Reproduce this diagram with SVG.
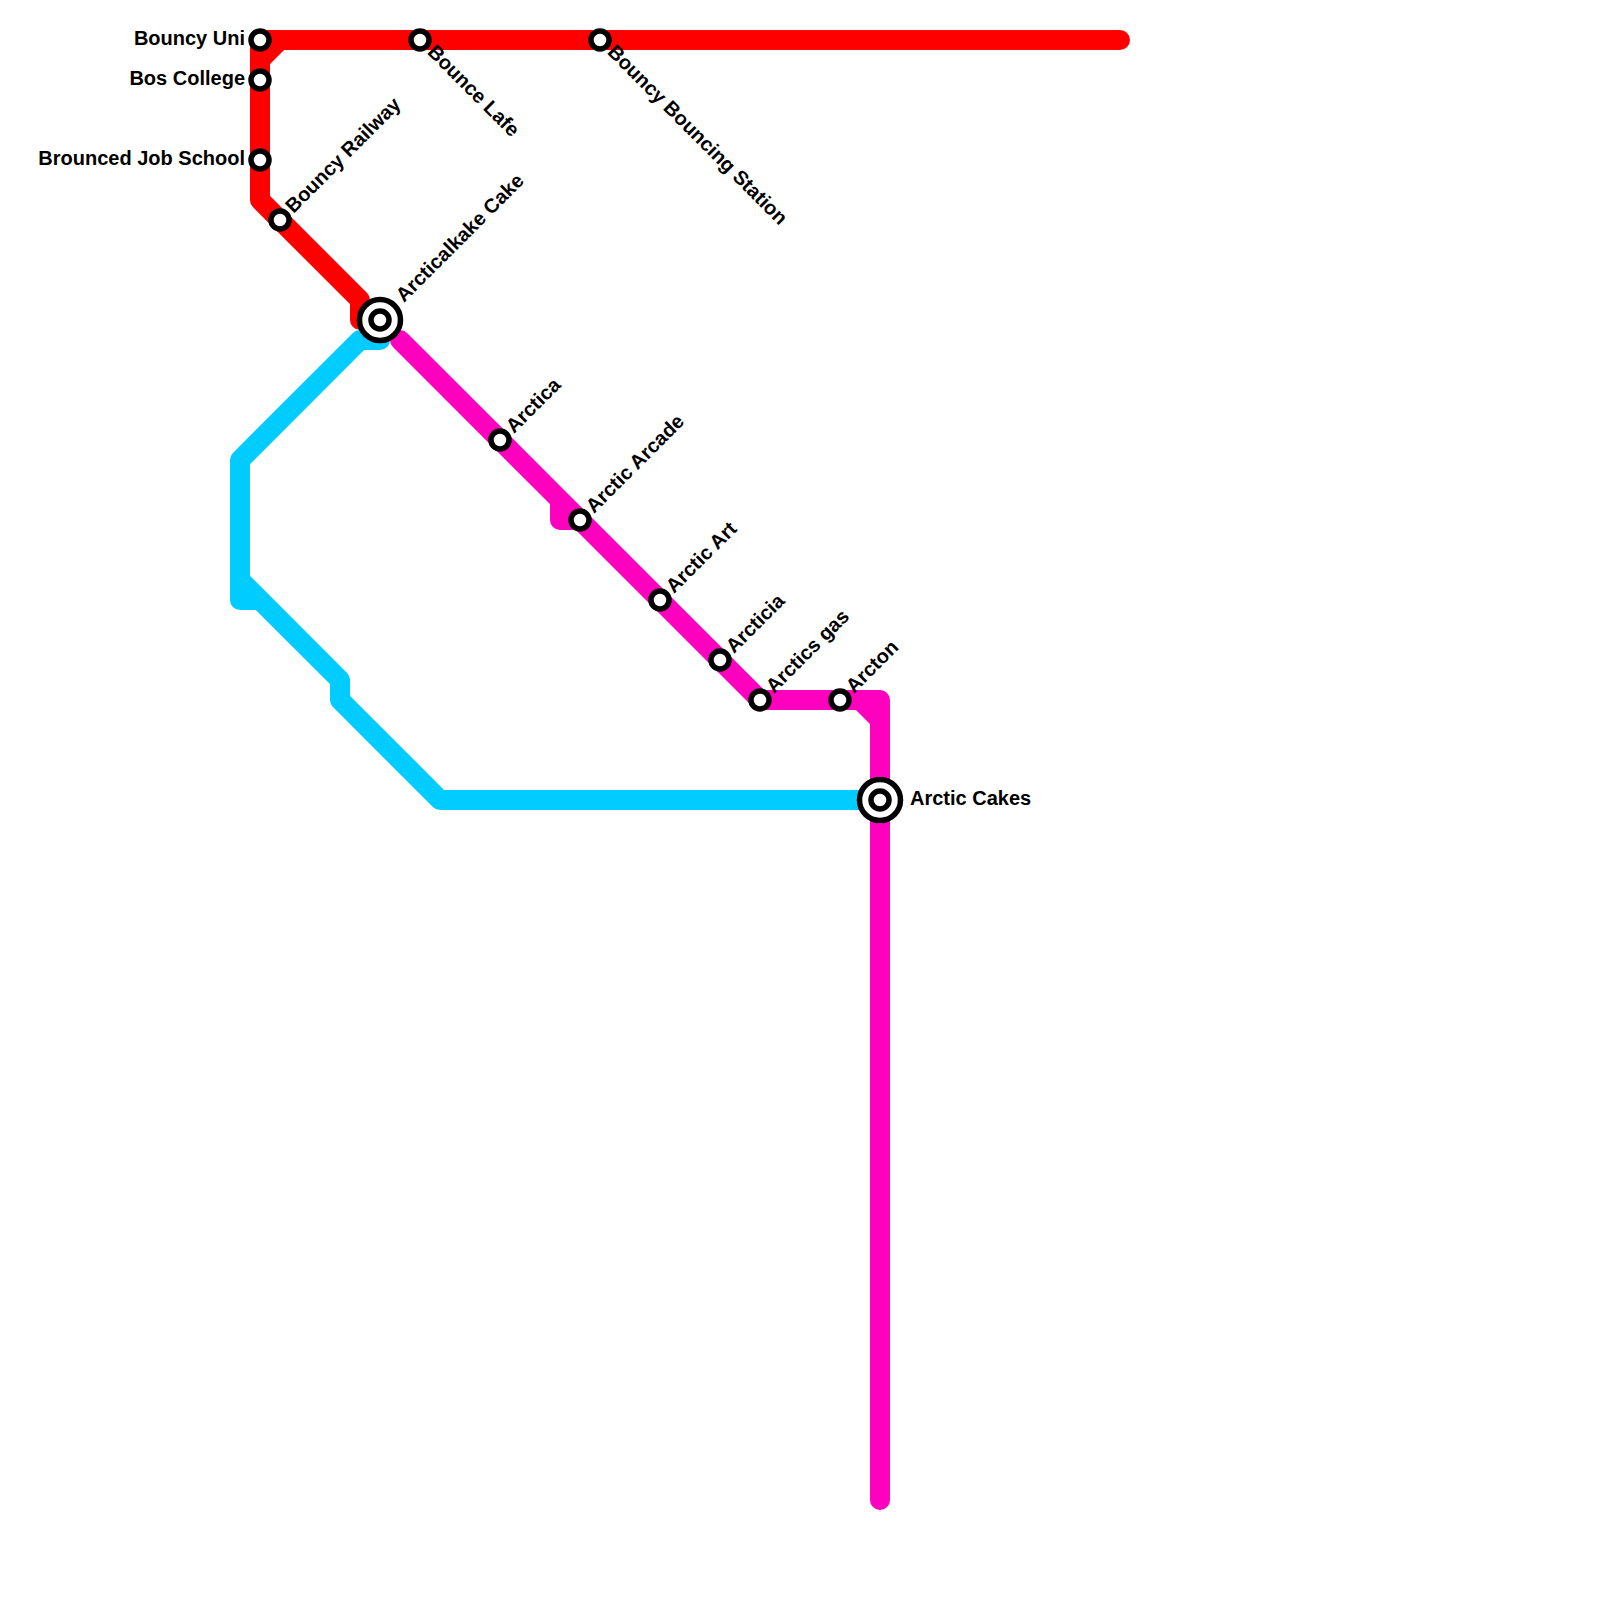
<svg xmlns="http://www.w3.org/2000/svg" width="1600" height="1600" viewBox="0 0 1600 1600">
<style>
.line{fill:none;stroke-width:20;stroke-linecap:round;stroke-linejoin:round}
.red{stroke:#ff0000}.pink{stroke:#ff00bf}.blue{stroke:#00ccff}
.st{fill:#fff;stroke:#000;stroke-width:5.5}
text{font-family:"Liberation Sans",Arial,sans-serif;font-weight:bold;font-size:20px;fill:#000}
.e{text-anchor:end}
</style>
<rect width="1600" height="1600" fill="#fff"/>
<g id="connectors">
<path class="line red" d="M1120 40H260V200L360 300V320H380M260 60L280 40"/>
<path class="line pink" d="M400 340L560 500V520H580M560 500L760 700H880V1500M860 700L880 720"/>
<path class="line blue" d="M380 340H360L240 460V600H260M240 580L340 680V700L440 800H880"/>
</g>
<g id="bouncy-uni"><circle class="st" cx="260" cy="40" r="9"/><text class="e" x="245" y="45">Bouncy Uni</text></g>
<g id="bos-college"><circle class="st" cx="260" cy="80" r="9"/><text class="e" x="245" y="85">Bos College</text></g>
<g id="brounced-job-school"><circle class="st" cx="260" cy="160" r="9"/><text class="e" x="245" y="165">Brounced Job School</text></g>
<g id="bouncy-railway"><circle class="st" cx="280" cy="220" r="9"/><text transform="translate(293.500 214) rotate(-45)">Bouncy Railway</text></g>
<g id="bounce-lafe"><circle class="st" cx="420" cy="40" r="9"/><text transform="translate(426.500 53) rotate(45)">Bounce Lafe</text></g>
<g id="bouncy-bouncing-station"><circle class="st" cx="600" cy="40" r="9"/><text transform="translate(606.500 53) rotate(45)">Bouncy Bouncing Station</text></g>
<g id="arcticalkake-cake"><circle class="st" cx="380" cy="320" r="20.500"/><circle class="st" cx="380" cy="320" r="9"/><text transform="translate(404 303) rotate(-45)">Arcticalkake Cake</text></g>
<g id="arctica"><circle class="st" cx="500" cy="440" r="9"/><text transform="translate(514 434) rotate(-45)">Arctica</text></g>
<g id="arctic-arcade"><circle class="st" cx="580" cy="520" r="9"/><text transform="translate(594 514) rotate(-45)">Arctic Arcade</text></g>
<g id="arctic-art"><circle class="st" cx="660" cy="600" r="9"/><text transform="translate(674 594) rotate(-45)">Arctic Art</text></g>
<g id="arcticia"><circle class="st" cx="720" cy="660" r="9"/><text transform="translate(734 654) rotate(-45)">Arcticia</text></g>
<g id="arctics-gas"><circle class="st" cx="760" cy="700" r="9"/><text transform="translate(774 694) rotate(-45)">Arctics gas</text></g>
<g id="arcton"><circle class="st" cx="840" cy="700" r="9"/><text transform="translate(854 694) rotate(-45)">Arcton</text></g>
<g id="arctic-cakes"><circle class="st" cx="880" cy="800" r="20.500"/><circle class="st" cx="880" cy="800" r="9"/><text x="910" y="805">Arctic Cakes</text></g>
</svg>
